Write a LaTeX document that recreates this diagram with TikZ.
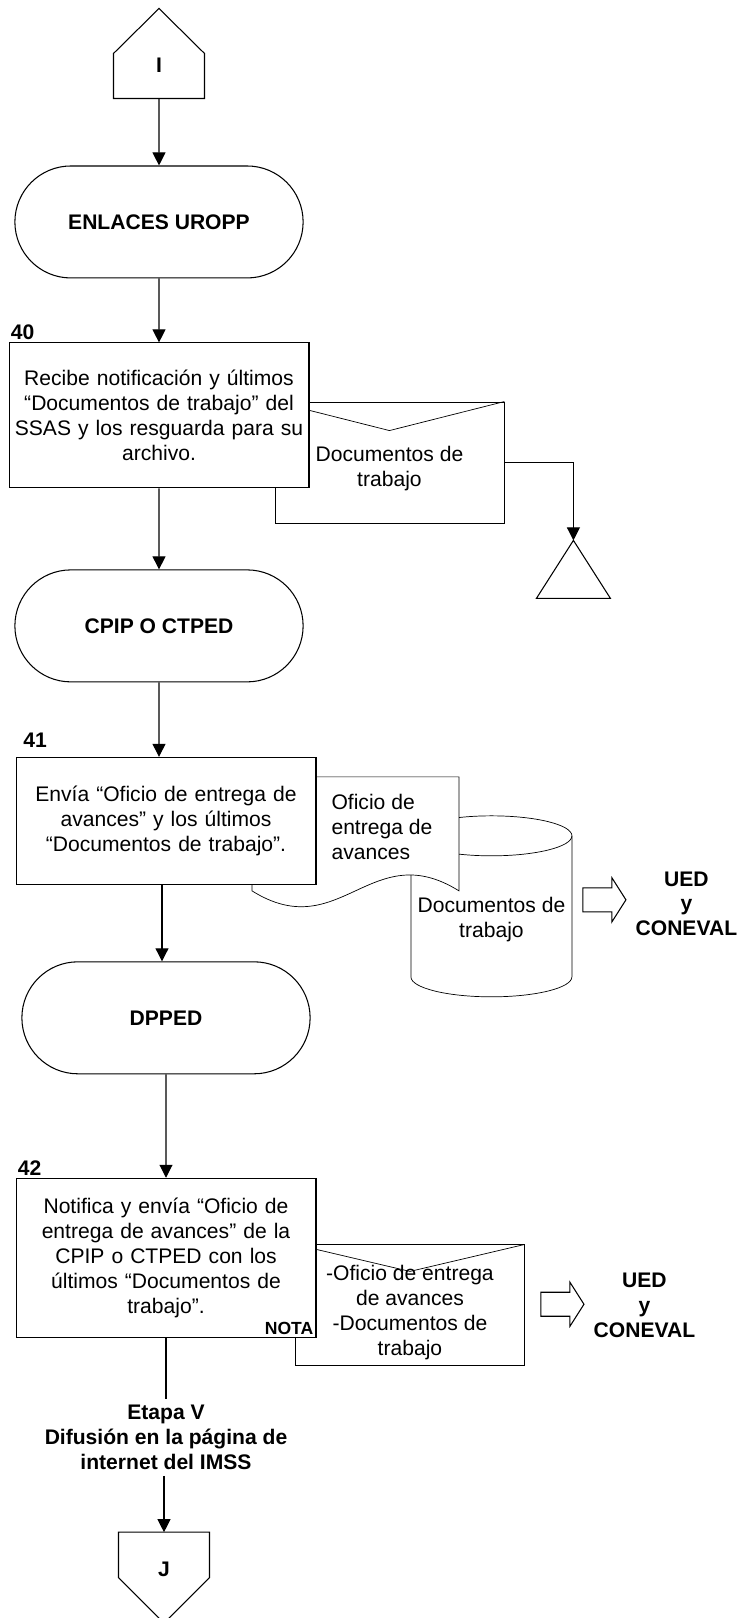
\documentclass[tikz,border=0pt]{standalone}
\usepackage{fontspec}
\setmainfont{Liberation Sans}
\usetikzlibrary{shapes, arrows.meta, positioning, backgrounds}

\begin{document}
\begin{tikzpicture}[x=0.02cm, y=0.02cm, node distance=3.9cm, line width=0.6pt,
		font=\fontsize{12}{14.2}\selectfont, >={Triangle[length=0.26cm,width=0.26cm]},
		terminal/.style={rounded rectangle, draw, fill=white, minimum width=6cm, minimum height=2.24cm, font=\fontsize{12}{14.2}\selectfont\bfseries},
		caja/.style={rectangle, draw, fill=white, minimum width=6cm, inner xsep=0.1cm, text width=5.8cm, align=center},
		sobre/.style={rectangle, draw, fill=white, minimum width=4.58cm, minimum height=2.42cm},
		paso/.style={anchor=south west, inner sep=1pt, font=\fontsize{12}{14.2}\selectfont\bfseries},
		destino/.style={align=center, font=\fontsize{12}{14.2}\selectfont\bfseries},
		flecha/.style={draw, fill=white}]
		\useasboundingbox (0,0) rectangle (740,-1618);

		\node[minimum width=1.8cm, minimum height=1.78cm, label={[yshift=-0.23cm]center:\textbf{I}}] (I) at (159,-53.5) {};
		\draw (I.south west) -- (I.west) -- (I.north) -- (I.east) -- (I.south east) -- cycle;

		\node[terminal, below of=I, yshift=0.53cm] (A) {ENLACES UROPP};

		\node[caja, minimum height=2.9cm, below of=A, yshift=0.03cm] (B) {Recibe notificación y últimos\\“Documentos de trabajo” del\\SSAS y los resguarda para su\\archivo.};
		\node[paso] (n40) at (B.north west) {40};

		\node[terminal, below of=B, yshift=-0.31cm] (C) {CPIP O CTPED};

		\node[caja, minimum height=2.54cm, below of=C, xshift=0.14cm] (D) {Envía “Oficio de entrega de\\avances” y los últimos\\“Documentos de trabajo”.};
		\node[paso, xshift=0.11cm, yshift=0.15cm] (n41) at (D.north west) {41};

		\node[align=left, right of=D, xshift=0.42cm, yshift=-0.12cm] (D1) {Oficio de\\entrega de\\avances};
		\node[align=center, right of=D, xshift=2.61cm, yshift=-1.97cm] (D2) {Documentos de\\trabajo};
		\node[destino, right of=D2, yshift=0.31cm] (D3) {UED\\y\\CONEVAL};
		\coordinate (D4) at ([shift={(113,19.5)}]D2.center);

		\node[terminal, below of=D, yshift=-0.04cm] (E) {DPPED};

		\node[caja, minimum height=3.18cm, below of=E, yshift=-0.9cm] (F) {Notifica y envía “Oficio de\\entrega de avances” de la\\CPIP o CTPED con los\\últimos “Documentos de\\trabajo”.};
		\node[paso] (n42) at (F.north west) {42};
		\node[anchor=south east, inner sep=1.5pt, font=\fontsize{10}{12}\selectfont\bfseries] (nota) at (F.south east) {NOTA};

		\node[destino, below of=F, yshift=0.31cm] (G) {Etapa V\\Difusión en la página de\\internet del IMSS};

		\node[minimum width=1.8cm, minimum height=1.8cm, label={[yshift=0.16cm]center:\textbf{J}}, below of=G, yshift=1.09cm, xshift=-0.04cm] (J) {};
		\draw (J.north west) -- (J.north east) -- (J.east) -- (J.south) -- (J.west) -- cycle;

		\begin{scope}[on background layer]
			\draw[fill=white] ([shift={(-80.5,83.5)}]D2.center) -- ([shift={(-80.5,-57.5)}]D2.center) arc[start angle=180, end angle=360, x radius=1.61cm, y radius=0.4cm] -- ([shift={(80.5,83.5)}]D2.center) arc[start angle=0, end angle=180, x radius=1.61cm, y radius=0.4cm] -- cycle;
			\draw ([shift={(-80.5,83.5)}]D2.center) arc[start angle=180, end angle=360, x radius=1.61cm, y radius=0.4cm];

			\draw[fill=white] ([shift={(-130,50)}]D1.center) -- ([shift={(77,50)}]D1.center) -- ([shift={(77,-64)}]D1.center) .. controls ([shift={(-11,-9)}]D1.center) and ([shift={(-42,-119)}]D1.center) .. ([shift={(-130,-64)}]D1.center) -- cycle;

			\node[sobre, right of=B, xshift=0.71cm, yshift=-0.94cm, label={[align=center, yshift=-0.12cm]center:Documentos de\\trabajo}] (B1) {};
			\draw (B1.north west) -- ([yshift=-0.58cm]B1.north) -- (B1.north east);

			\node[sobre, right of=F, xshift=0.98cm, yshift=-0.95cm, label={[align=center, yshift=-0.15cm]center:-Oficio de entrega\\de avances\\-Documentos de\\trabajo}] (F1) {};
			\draw (F1.north west) -- ([yshift=-0.54cm]F1.north) -- (F1.north east);
		\end{scope}

		\node[minimum width=1.46cm, minimum height=1.14cm, right of=B1, xshift=-0.22cm, yshift=-2.14cm] (B2) {};
		\draw (B2.north) -- (B2.south east) -- (B2.south west) -- cycle;

		\node[destino, right of=F1, xshift=0.79cm] (F2) {UED\\y\\CONEVAL};
		\coordinate (F3) at ([shift={(152.5,1)}]F1.center);

		\draw[flecha] ([shift={(-21.5,12)}]D4) -- ([shift={(7.5,12)}]D4) -- ([shift={(7.5,22)}]D4) -- ([shift={(21.5,0)}]D4) -- ([shift={(7.5,-22)}]D4) -- ([shift={(7.5,-12)}]D4) -- ([shift={(-21.5,-12)}]D4) -- cycle;
		\draw[flecha] ([shift={(-21.5,12)}]F3) -- ([shift={(7.5,12)}]F3) -- ([shift={(7.5,22)}]F3) -- ([shift={(21.5,0)}]F3) -- ([shift={(7.5,-22)}]F3) -- ([shift={(7.5,-12)}]F3) -- ([shift={(-21.5,-12)}]F3) -- cycle;

		\draw[->] (I) -- (A);
		\draw[->] (A) -- (B);
		\draw[->] (B) -- (C);
		\draw[->] (B1) -| (B2);
		\draw[->] (C) -- (C |- D.north);
		\draw[->] ([xshift=-0.08cm]D.south) -- ([xshift=-0.08cm]D.south |- E.north);
		\draw[->] (E) -- (E |- F.north);
		\draw (F) -- (G);
		\draw[->] (G.south -| J) -- (J);

	\end{tikzpicture}
\end{document}
